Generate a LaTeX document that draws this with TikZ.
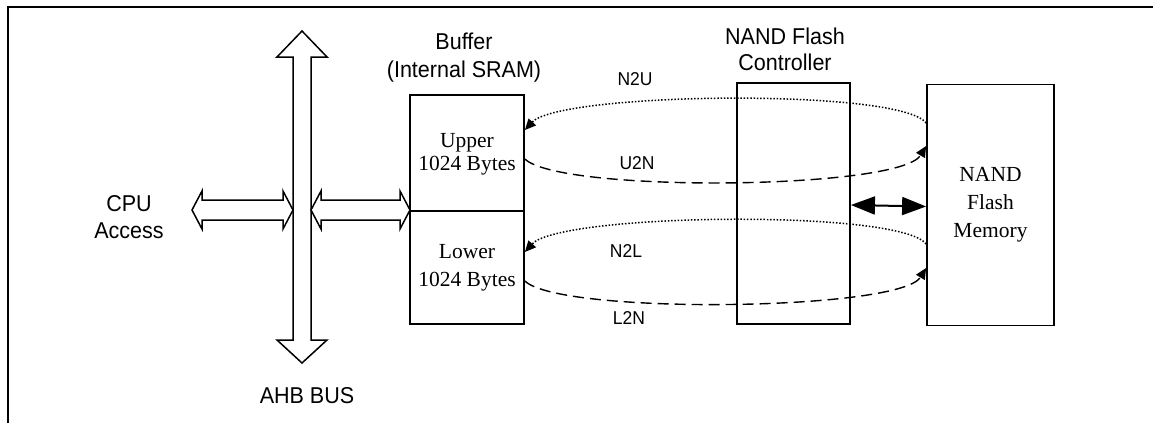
\documentclass[tikz,border=0pt]{standalone}
\usepackage{fontspec}
\setmainfont{Liberation Serif}
\newfontfamily\arialf[FakeStretch=0.94]{Liberation Sans}
\usetikzlibrary{arrows.meta}
\tikzset{
  boxnode/.style={draw, line width=1.8pt, rectangle, inner sep=0pt, align=center},
  sanstxt/.style={font=\arialf\fontsize{22.9}{28}\selectfont, align=center, inner sep=0pt},
  lbltxt/.style={font=\arialf\fontsize{18.6}{20}\selectfont, inner sep=0pt},
  serif/.style={font=\fontsize{21.5}{28}\selectfont},
  blockarrow/.style={draw, line width=1.5pt, fill=white, line join=miter},
  dotline/.style={line width=1.5pt, dash pattern=on 1.5pt off 1.8pt},
  dashline/.style={line width=1.4pt, dash pattern=on 11pt off 6pt},
  tiphead/.style={-{Triangle[length=11pt,width=10pt]}}
}
\begin{document}
\begin{tikzpicture}[x=1pt,y=-1pt]
\useasboundingbox (0,0) rectangle (1153,423);
% frame
\draw[line width=2pt] (8,423) -- (8,7) -- (1153,7);

% boxes
\node[boxnode, minimum width=114pt, minimum height=116pt] (upper) at (467,153) {};
\node[font=\fontsize{21.5}{23}\selectfont, align=center, inner sep=0pt] (uppertxt) at (467,154) {Upper\\1024 Bytes};
\node[boxnode, minimum width=114pt, minimum height=113pt, serif] (lower) at (467,267.5) {Lower\\1024 Bytes};
\node[boxnode, minimum width=113pt, minimum height=241pt] (ctrl) at (793.5,203.5) {};
\node[boxnode, minimum width=127pt, minimum height=241pt, serif] (mem) at (990.5,205) {NAND\\Flash\\Memory};

% texts
\node[sanstxt] (buftxt) at (464,58) {Buffer\\(Internal SRAM)};
\node[sanstxt, font=\arialf\fontsize{22.9}{26}\selectfont] (ctrltxt) at (785,49) {NAND Flash\\Controller};
\node[sanstxt, font=\arialf\fontsize{22.9}{27}\selectfont] (cpu) at (129,217) {CPU\\Access};
\node[sanstxt] (ahb) at (307,396) {AHB BUS};

% block arrows
\draw[blockarrow] (302,31) -- (327,57) -- (311,57) -- (311,340) -- (327,340) -- (302,363)
  -- (277,340) -- (293,340) -- (293,57) -- (277,57) -- cycle;
\draw[blockarrow] (192,210) -- (202,191) -- (202,200) -- (283,200) -- (283,191) -- (293,210)
  -- (283,229) -- (283,220) -- (202,220) -- (202,229) -- cycle;
\draw[blockarrow] (311,210) -- (321,191) -- (321,200) -- (400,200) -- (400,191) -- (410,210)
  -- (400,229) -- (400,220) -- (321,220) -- (321,229) -- cycle;

% transfer curves
\draw[dotline, tiphead] ([yshift=82pt]mem.west) .. controls (900,88) and (560,92) .. ([yshift=23pt]upper.east);
\draw[dashline, tiphead] ([yshift=-6pt]upper.east) .. controls (560,193) and (900,190) .. ([yshift=59pt]mem.west);
\draw[dotline, tiphead] ([yshift=-39pt]mem.west) .. controls (900,209) and (560,213) .. ([yshift=15.5pt]lower.east);
\draw[dashline, tiphead] ([yshift=-13.5pt]lower.east) .. controls (560,315) and (900,311) .. ([yshift=-63pt]mem.west);

% controller <-> memory
\draw[line width=2pt, {Triangle[length=24pt,width=18pt]}-{Triangle[length=24pt,width=18pt]}]
  ([yshift=-1.5pt]ctrl.east) -- ([yshift=-1.5pt]mem.west);

% labels
\node[lbltxt] (n2u) at (635,79) {N2U};
\node[lbltxt] (u2n) at (637,163) {U2N};
\node[lbltxt] (n2l) at (626,251) {N2L};
\node[lbltxt] (l2n) at (629,318) {L2N};
\end{tikzpicture}
\end{document}
